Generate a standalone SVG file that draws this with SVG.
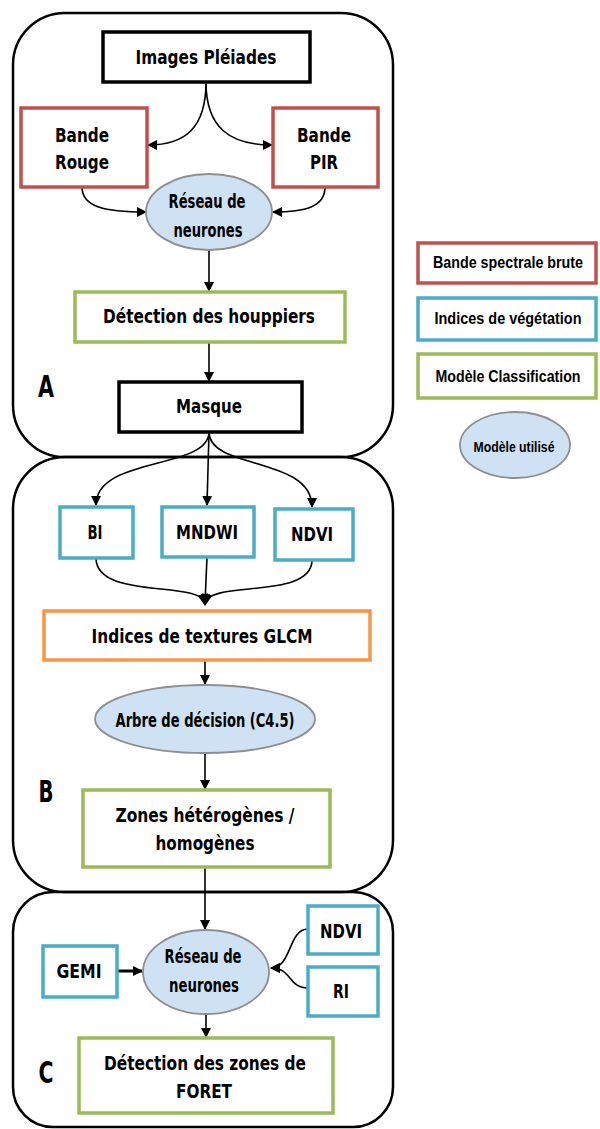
<svg xmlns="http://www.w3.org/2000/svg" width="600" height="1129" viewBox="0 0 600 1129">
<style>
.frame{fill:none;stroke:#000;stroke-width:2.5}
.bk{fill:#fff;stroke:#000;stroke-width:3.5}
.rd{fill:#fff;stroke:#c0504d;stroke-width:3.5}
.bl{fill:#fff;stroke:#4bacc6;stroke-width:3.5}
.gr{fill:#fff;stroke:#9bbb59;stroke-width:3.5}
.or{fill:#fff;stroke:#f79646;stroke-width:3.5}
.el{fill:#cfe2f3;stroke:#8f8f8f;stroke-width:1.8}
.t{font-family:"DejaVu Sans Condensed","DejaVu Sans",sans-serif;font-weight:bold;font-size:20px;text-anchor:middle;fill:#000}
.lt{font-family:"Liberation Sans",Arial,sans-serif;font-weight:bold;font-size:16px;text-anchor:middle;fill:#000}
.big{font-family:"DejaVu Sans Condensed","DejaVu Sans",sans-serif;font-weight:bold;font-size:30px;text-anchor:middle;fill:#000}
.c{fill:none;stroke:#000;stroke-width:1.6;marker-end:url(#ah)}
</style>
<defs>
<marker id="ah" viewBox="0 0 10 10" refX="9" refY="5" markerWidth="10" markerHeight="10" markerUnits="userSpaceOnUse" orient="auto">
<path d="M0,0 L10,5 L0,10 z" fill="#000"/>
</marker>
</defs>
<rect width="600" height="1129" fill="#fff"/>

<g id="sectionA"><rect class="frame" x="13" y="13" width="380" height="444" rx="52" ry="52"/><text class="big" x="46" y="397" textLength="16" lengthAdjust="spacingAndGlyphs">A</text></g>
<g id="sectionB"><rect class="frame" x="13" y="457" width="380" height="435" rx="52" ry="52"/><text class="big" x="46" y="802" textLength="15" lengthAdjust="spacingAndGlyphs">B</text></g>
<g id="sectionC"><rect class="frame" x="13" y="892" width="380" height="235" rx="40" ry="40"/><text class="big" x="46" y="1083" textLength="15" lengthAdjust="spacingAndGlyphs">C</text></g>

<g id="connectors">
<path class="c" d="M206,82 C206,128 185,145 148,145"/>
<path class="c" d="M206,82 C206,128 230,145 272,145"/>
<path class="c" d="M82,187 C82,207 105,212 146,212"/>
<path class="c" d="M325,187 C325,207 305,212 273,212"/>
<path class="c" d="M209,250 L209,291"/>
<path class="c" d="M209,342 L209,381"/>
<path class="c" d="M209,432 C209,470 96,456 96,505"/>
<path class="c" d="M209,432 L207,505"/>
<path class="c" d="M209,432 C209,470 312,456 312,507"/>
<path class="c" d="M96,558 C96,600 200,580 205,603"/>
<path class="c" d="M207,557 L205,603"/>
<path class="c" d="M312,560 C312,600 210,580 205,603"/>
<path d="M198,596 L212,596 L205,606 z" fill="#000"/>
<path class="c" d="M205,660 L205,684"/>
<path class="c" d="M205,753 L205,789"/>
<path class="c" d="M205,867 L205,929"/>
<path class="c" d="M117,971 L142,971" style="stroke-width:3"/>
<path class="c" d="M308,929 C288,929 292,968 271,968"/>
<path class="c" d="M308,988 C288,988 292,968 271,968"/>
<path class="c" d="M206,1014 L206,1037"/>
</g>

<g id="imagesPleiades"><rect class="bk" x="103" y="32" width="207" height="50"/><text class="t" x="206" y="64" textLength="141" lengthAdjust="spacingAndGlyphs">Images Pléiades</text></g>
<g id="bandeRouge"><rect class="rd" x="21" y="108" width="126" height="79"/><text class="t" x="82" y="142" textLength="54" lengthAdjust="spacingAndGlyphs">Bande</text><text class="t" x="82" y="169" textLength="54" lengthAdjust="spacingAndGlyphs">Rouge</text></g>
<g id="bandePIR"><rect class="rd" x="273" y="108" width="105" height="79"/><text class="t" x="324" y="142" textLength="54" lengthAdjust="spacingAndGlyphs">Bande</text><text class="t" x="324" y="169" textLength="28" lengthAdjust="spacingAndGlyphs">PIR</text></g>
<g id="reseauA"><ellipse class="el" cx="209" cy="212" rx="63" ry="38"/><text class="t" x="207" y="208" textLength="77" lengthAdjust="spacingAndGlyphs">Réseau de</text><text class="t" x="208" y="237" textLength="69" lengthAdjust="spacingAndGlyphs">neurones</text></g>
<g id="detectionHouppiers"><rect class="gr" x="75" y="292" width="270" height="50"/><text class="t" x="209" y="323" textLength="212" lengthAdjust="spacingAndGlyphs">Détection des houppiers</text></g>
<g id="masque"><rect class="bk" x="119" y="382" width="183" height="50"/><text class="t" x="209" y="413" textLength="66" lengthAdjust="spacingAndGlyphs">Masque</text></g>

<g id="bi"><rect class="bl" x="60" y="507" width="73" height="51"/><text class="t" x="95" y="539" textLength="15" lengthAdjust="spacingAndGlyphs">BI</text></g>
<g id="mndwi"><rect class="bl" x="162" y="507" width="92" height="50"/><text class="t" x="207" y="539" textLength="62" lengthAdjust="spacingAndGlyphs">MNDWI</text></g>
<g id="ndviB"><rect class="bl" x="275" y="509" width="78" height="51"/><text class="t" x="312" y="541" textLength="42" lengthAdjust="spacingAndGlyphs">NDVI</text></g>
<g id="glcm"><rect class="or" x="44" y="611" width="326" height="49"/><text class="t" x="202" y="643" textLength="221" lengthAdjust="spacingAndGlyphs">Indices de textures GLCM</text></g>
<g id="arbre"><ellipse class="el" cx="205" cy="719" rx="110" ry="34"/><text class="t" x="205" y="727" textLength="179" lengthAdjust="spacingAndGlyphs" style="font-size:19px">Arbre de décision (C4.5)</text></g>
<g id="zones"><rect class="gr" x="83" y="790" width="247" height="77"/><text class="t" x="205" y="822" textLength="179" lengthAdjust="spacingAndGlyphs">Zones hétérogènes /</text><text class="t" x="205" y="850" textLength="99" lengthAdjust="spacingAndGlyphs">homogènes</text></g>

<g id="gemi"><rect class="bl" x="43" y="946" width="74" height="51"/><text class="t" x="79" y="978" textLength="45" lengthAdjust="spacingAndGlyphs">GEMI</text></g>
<g id="reseauC"><ellipse class="el" cx="206" cy="972" rx="63" ry="42"/><text class="t" x="203" y="963" textLength="77" lengthAdjust="spacingAndGlyphs">Réseau de</text><text class="t" x="204" y="992" textLength="70" lengthAdjust="spacingAndGlyphs">neurones</text></g>
<g id="ndviC"><rect class="bl" x="308" y="906" width="70" height="48"/><text class="t" x="341" y="938" textLength="42" lengthAdjust="spacingAndGlyphs">NDVI</text></g>
<g id="ri"><rect class="bl" x="308" y="967" width="70" height="49"/><text class="t" x="341" y="998" textLength="16" lengthAdjust="spacingAndGlyphs">RI</text></g>
<g id="detectionForet"><rect class="gr" x="79" y="1038" width="254" height="75"/><text class="t" x="205" y="1070" textLength="202" lengthAdjust="spacingAndGlyphs">Détection des zones de</text><text class="t" x="204" y="1098" textLength="56" lengthAdjust="spacingAndGlyphs">FORET</text></g>

<g id="legendRaw"><rect class="rd" x="418" y="243" width="178" height="40"/><text class="lt" x="508" y="268" textLength="150" lengthAdjust="spacingAndGlyphs">Bande spectrale brute</text></g>
<g id="legendIndices"><rect class="bl" x="418" y="298" width="178" height="42"/><text class="lt" x="508" y="324" textLength="147" lengthAdjust="spacingAndGlyphs">Indices de végétation</text></g>
<g id="legendModele"><rect class="gr" x="418" y="354" width="178" height="44"/><text class="lt" x="508" y="382" textLength="145" lengthAdjust="spacingAndGlyphs">Modèle Classification</text></g>
<g id="legendUtilise"><ellipse class="el" cx="515" cy="445" rx="55" ry="33"/><text class="lt" x="514" y="452" textLength="81" lengthAdjust="spacingAndGlyphs" style="font-size:15px">Modèle utilisé</text></g>
</svg>
